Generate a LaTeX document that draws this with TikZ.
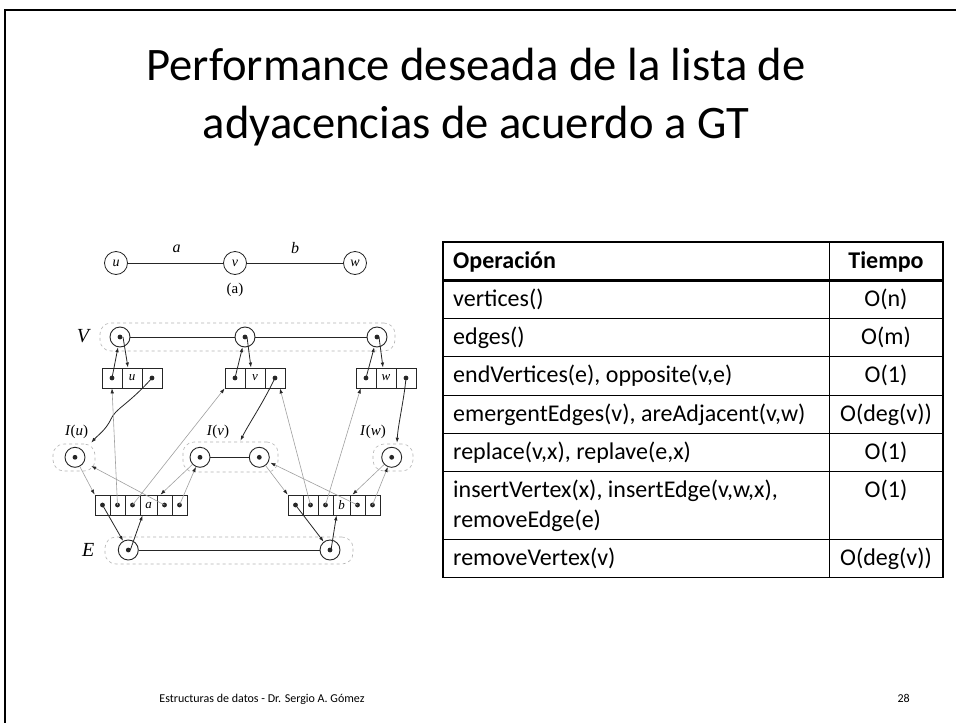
\documentclass[tikz,border=0pt]{standalone}
\usepackage{fontspec}
\setmainfont{Carlito}
\newfontfamily\dgfont{Liberation Serif}
\usetikzlibrary{arrows.meta,calc}
\definecolor{ink}{HTML}{262626}
\definecolor{lite}{HTML}{A0A0A0}
\definecolor{dashc}{HTML}{B4B4B4}
\begin{document}
\begin{tikzpicture}[x=1pt,y=-1pt,
  posn/.style={circle,draw=ink,line width=0.9pt,minimum size=20pt,inner sep=0pt,
    path picture={\fill[ink] (path picture bounding box.center) circle (2.4pt);}},
  gnode/.style={circle,draw=ink,line width=0.8pt,minimum size=23pt,inner sep=0pt,
    font=\dgfont\itshape\fontsize{14}{14}\selectfont},
  cell/.style={draw=ink,line width=0.8pt,minimum height=20pt,inner sep=0pt,
    font=\dgfont\itshape\fontsize{13}{13}\selectfont},
  dcell/.style={cell,path picture={\fill[ink] (path picture bounding box.center) circle (2.4pt);}},
  cont/.style={draw=dashc,dashed,line width=0.6pt,rounded corners=11pt,inner sep=0pt},
  arr/.style={draw=ink,line width=0.8pt,-{Latex[length=5pt,width=3.5pt]}},
  garr/.style={draw=lite,line width=0.6pt,-{Latex[length=5pt,width=3.5pt,color=ink]}},
  conn/.style={draw=ink,line width=0.9pt},
  dlab/.style={font=\dgfont\itshape\fontsize{16}{16}\selectfont},
  biglab/.style={font=\dgfont\itshape\fontsize{20}{20}\selectfont},
  ilab/.style={font=\dgfont\fontsize{15}{15}\selectfont},
  tabtxt/.style={font=\fontsize{24}{29}\selectfont,inner sep=0pt},
  tabhead/.style={font=\bfseries\fontsize{24}{29}\selectfont,inner sep=0pt},
  thin/.style={line width=1pt,draw=black}
]
\useasboundingbox (0,0) rectangle (956,723);
\fill[white] (0,0) rectangle (956,723);
% slide border
\draw[line width=2pt] (5,723) -- (5,10) -- (956,10);

% title
\node[font=\fontsize{46.6}{58}\selectfont,anchor=base,inner sep=0pt] (t1) at (476,80) {Performance deseada de la lista de};
\node[font=\fontsize{46.6}{58}\selectfont,anchor=base,inner sep=0pt] (t2) at (476,138) {adyacencias de acuerdo a GT};

% ---------- graph (a)
\node[gnode] (gu) at (116,263) {u};
\node[gnode] (gv) at (235,263) {v};
\node[gnode] (gw) at (355,263) {w};
\draw[conn,line width=0.8pt] (gu) -- (gv);
\draw[conn,line width=0.8pt] (gv) -- (gw);
\node[dlab] (la) at (176.7,249) {a};
\node[dlab] (lb) at (295,248) {b};
\node[ilab] (lcap) at (235,290) {(a)};

% ---------- V
\node[cont,minimum width=295,minimum height=28] (cV) at (247.5,337) {};
\node[biglab] (lV) at (83,336) {V};
\node[posn] (vu) at (120,337) {};
\node[posn] (vv) at (245,337) {};
\node[posn] (vw) at (377,337) {};
\draw[conn] (vu) -- (vv);
\draw[conn] (vv) -- (vw);

% vertex boxes
\node[dcell,minimum width=20] (bu1) at (112,378) {};
\node[cell,minimum width=20] (bu2) at (132,378) {u};
\node[dcell,minimum width=20] (bu3) at (152,378) {};
\node[dcell,minimum width=20] (bv1) at (235,378) {};
\node[cell,minimum width=20] (bv2) at (255,378) {v};
\node[dcell,minimum width=20] (bv3) at (275,378) {};
\node[dcell,minimum width=20] (bw1) at (366,378) {};
\node[cell,minimum width=20] (bw2) at (386,378) {w};
\node[dcell,minimum width=20] (bw3) at (406,378) {};

\draw[arr] (bu1.center) -- (vu);
\draw[arr] ([xshift=3]vu.center) -- ([xshift=-4]bu2.north);
\draw[arr] (bv1.center) -- (vv);
\draw[arr] ([xshift=2]vv.center) -- ([xshift=-4]bv2.north);
\draw[arr] (bw1.center) -- (vw);
\draw[arr] ([xshift=2]vw.center) -- ([xshift=-3]bw2.north);

% incidence containers
\node[cont,minimum width=42,minimum height=27] (cIu) at (74,457.5) {};
\node[cont,minimum width=95,minimum height=30] (cIv) at (230.5,457) {};
\node[cont,minimum width=40,minimum height=27] (cIw) at (393,457.5) {};
\node[ilab] (lIu) at (76.7,431.7) {\itshape I\/\upshape(\itshape u\/\upshape)};
\node[ilab] (lIv) at (218,431.7) {\itshape I\/\upshape(\itshape v\/\upshape)};
\node[ilab] (lIw) at (373,431.7) {\itshape I\/\upshape(\itshape w\/\upshape)};
\node[posn] (iu) at (75,457.3) {};
\node[posn] (iv1) at (200,457.3) {};
\node[posn] (iv2) at (259.3,457.3) {};
\node[posn] (iw) at (391.7,457.3) {};
\draw[conn] (iv1) -- (iv2);

\draw[arr] (bu3.center) .. controls (128,405) and (116,408) .. (111,419) .. controls (106,430) and (97,436) .. ([xshift=-4,yshift=1]cIu.north east);
\draw[arr] (bv3.center) .. controls (262,405) and (248,425) .. ([xshift=10,yshift=1]cIv.north);
\draw[arr] (bw3.center) .. controls (404,400) and (398,425) .. ([xshift=4,yshift=1]cIw.north);

% edge boxes
\node[dcell,minimum width=15] (ea1) at (102.5,505) {};
\node[dcell,minimum width=15] (ea2) at (117.5,505) {};
\node[dcell,minimum width=15] (ea3) at (132.5,505) {};
\node[cell,minimum width=17] (ea4) at (148.5,505) {a};
\node[dcell,minimum width=15] (ea5) at (164.5,505) {};
\node[dcell,minimum width=15] (ea6) at (179.5,505) {};
\node[dcell,minimum width=15] (eb1) at (295.5,505) {};
\node[dcell,minimum width=15] (eb2) at (310.5,505) {};
\node[dcell,minimum width=15] (eb3) at (325.5,505) {};
\node[cell,minimum width=17] (eb4) at (341.5,505) {b};
\node[dcell,minimum width=15] (eb5) at (357.5,505) {};
\node[dcell,minimum width=15] (eb6) at (372.5,505) {};

% gray structure links
\draw[garr] (iu) -- (ea1.north west);
\draw[garr] (ea2.center) -- (bu1.south);
\draw[garr] (ea3.center) -- (bv1.south west);
\draw[garr,shorten >=8pt] (ea5.center) -- (iu);
\draw[garr] (iv1) -- ([xshift=-4]ea5.north);
\draw[garr] (ea6.center) -- (iv1);
\draw[garr] (iv2) -- (eb1.north west);
\draw[garr] (eb2.center) -- ([xshift=5]bv3.south);
\draw[garr] (eb3.center) -- ([xshift=5]bw1.south west);
\draw[garr,shorten >=2pt] (eb5.center) -- (iv2);
\draw[garr] (iw) -- ([xshift=-5]eb5.north);
\draw[garr] (eb6.center) -- (iw);

% E
\node[cont,minimum width=248,minimum height=27] (cE) at (229,550.5) {};
\node[biglab] (lE) at (88.3,550) {E};
\node[posn] (e1) at (128.3,550) {};
\node[posn] (e2) at (330,550) {};
\draw[conn] (e1) -- (e2);
\draw[arr] (ea1.center) -- (e1);
\draw[arr] ([xshift=2]e1.center) -- ([xshift=-6]ea4.south);
\draw[arr] (eb1.center) -- (e2);
\draw[arr] ([xshift=1]e2.center) -- ([xshift=-5]eb4.south);

% ---------- table
\draw[line width=1.3pt] (443,242) rectangle (943,577.7);
\draw[thin] (829,242) -- (829,577.7);
\draw[line width=3pt] (443,280.3) -- (943,280.3);
\foreach \yy in {318.6,356.9,395.2,433.5,471.8,539.4}
  \draw[thin] (443,\yy) -- (943,\yy);

\node[tabhead,anchor=base west] (h1) at (453,268) {Operación};
\node[tabhead,anchor=base] (h2) at (886,268) {Tiempo};
\node[tabtxt,anchor=base west] (r1) at (453,306.3) {vertices()};
\node[tabtxt,anchor=base] (s1) at (886,306.3) {O(n)};
\node[tabtxt,anchor=base west] (r2) at (453,344.6) {edges()};
\node[tabtxt,anchor=base] (s2) at (886,344.6) {O(m)};
\node[tabtxt,anchor=base west] (r3) at (453,382.9) {endVertices(e), opposite(v,e)};
\node[tabtxt,anchor=base] (s3) at (886,382.9) {O(1)};
\node[tabtxt,anchor=base west] (r4) at (453,421.2) {emergentEdges(v), areAdjacent(v,w)};
\node[tabtxt,anchor=base] (s4) at (886,421.2) {O(deg(v))};
\node[tabtxt,anchor=base west] (r5) at (453,459.5) {replace(v,x), replave(e,x)};
\node[tabtxt,anchor=base] (s5) at (886,459.5) {O(1)};
\node[tabtxt,anchor=base west] (r6) at (453,497.8) {insertVertex(x), insertEdge(v,w,x),};
\node[tabtxt,anchor=base west] (r6b) at (453,527.1) {removeEdge(e)};
\node[tabtxt,anchor=base] (s6) at (886,497.8) {O(1)};
\node[tabtxt,anchor=base west] (r7) at (453,565.4) {removeVertex(v)};
\node[tabtxt,anchor=base] (s7) at (886,565.4) {O(deg(v))};

% footer
\node[font=\fontsize{12}{14}\selectfont,anchor=base,inner sep=0pt] (foot) at (262,702) {Estructuras de datos - Dr. Sergio A. Gómez};
\node[font=\fontsize{12}{14}\selectfont,anchor=base east,inner sep=0pt] (pnum) at (910,702) {28};
\end{tikzpicture}
\end{document}
